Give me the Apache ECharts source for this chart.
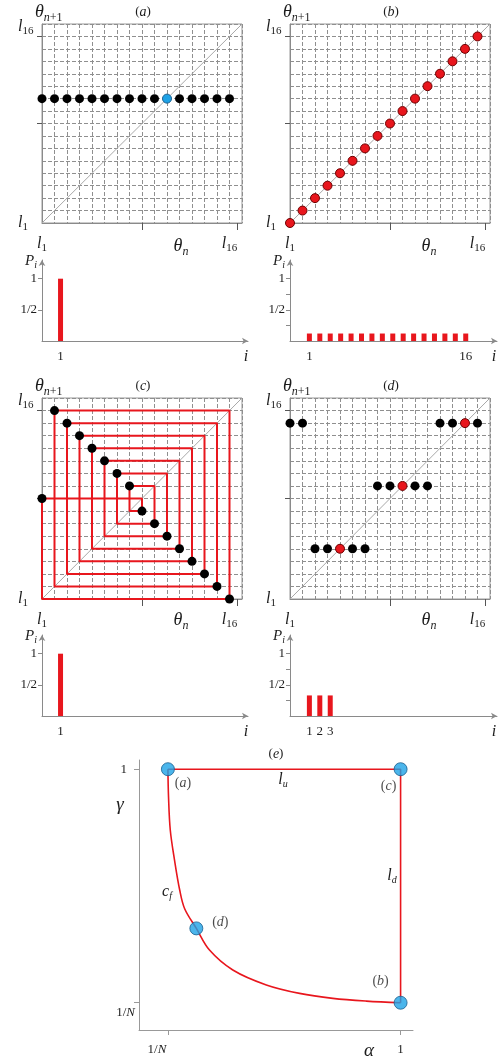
<!DOCTYPE html>
<html><head><meta charset="utf-8">
<script src="https://cdn.jsdelivr.net/npm/echarts@6/dist/echarts.min.js"></script>
<style>html,body{margin:0;padding:0;background:#fff}#c{width:500px;height:1063px}</style>
</head><body><div id="c"></div>
<script>
// ---------------- data ----------------
const levels = [1,2,3,4,5,6,7,8,9,10,11,12,13,14,15,16];
const nextA = [11,11,11,11,11,11,11,11,11,11,11,11,11,11,11,11];
const nextB = [1,2,3,4,5,6,7,8,9,10,11,12,13,14,15,16];
const cycleC = [1,9,8,10,7,11,6,12,5,13,4,14,3,15,2,16];
const nextD = [15,15,5,5,5,5,5,10,10,10,10,10,15,15,15,15];

const boxLabelValues = [1, 16];
const boxLabelSubs = ['1', '16'];
const boxXTickValues = [9, 16.6];
const boxYTickValues = [9, 16];

const barsA_i = [1];  const barsA_p = [1];
const barsB_i = [1,2,3,4,5,6,7,8,9,10,11,12,13,14,15,16];
const barsB_p = [0.12,0.12,0.12,0.12,0.12,0.12,0.12,0.12,0.12,0.12,0.12,0.12,0.12,0.12,0.12,0.12];
const barsC_i = [1];  const barsC_p = [1];
const barsD_i = [1,2,3]; const barsD_p = [0.33,0.33,0.33];
const barYLabelValues = [0.5, 1];
const barYLabelTexts = ['1/2', '1'];
const barYTicksShort = [0.5, 1];
const barYTicksFull = [0.25, 0.5, 0.75, 1];

const N = 16;
const curveAlpha = [0.0625,0.065,0.072,0.089,0.110,0.130,0.177,0.230,0.324,0.459,0.593,0.727,0.862,1.0];
const curveGamma = [1.0,0.888,0.756,0.636,0.515,0.44,0.361,0.274,0.194,0.134,0.100,0.080,0.069,0.0625];
const pointNames = ['(a)','(c)','(d)','(b)'];
const pointAlpha = [1/16, 1, 0.177, 1];
const pointGamma = [1, 1, 0.361, 1/16];
const eTickValues = [1/16, 1];
const eTickTexts = ['1/N', '1'];

// ---------------- styles ----------------
const F = "'Liberation Serif','DejaVu Serif',serif";
const INK = '#1c1c1c';
const RED = '#e8161d';
const GRIDC = '#8f8f8f';
const AXIS = '#8a8a8a';
const BLUE = '#1ea2e6';

function rs(size, italic, pad) {
  const o = {fontFamily:F, fontSize:size, fontStyle: italic ? 'italic' : 'normal', color:INK, fill:INK};
  if (pad) o.padding = pad;
  return o;
}
const RICH = {
  th: rs(18, true), ths: rs(12, true, [11,0,0,0]), thd: rs(12, false, [11,0,0,0]),
  l: rs(16, true), ls: rs(11, false, [9,0,0,0]),
  lu: rs(16, true, [0,0,20,0]), lsu: rs(11, false, [9,0,20,0]),
  P: rs(15, true), Ps: rs(10, true, [8,0,0,0]),
  it: rs(16, true),
  pl: rs(14, true),
  n: rs(13, false),
  g: rs(19, true),
  ys: rs(13,false,[20,0,0,0]), yi: rs(13,true,[20,0,0,0]),
  x1: rs(13,false), xN: rs(13,true,[0,22,0,0]),
  y1: rs(13,false,[0,8,0,0])
};

const grid = [], xAxis = [], yAxis = [], series = [], graphic = [];

function txt(x, y, text, align) {
  graphic.push({type:'text', x:x, y:y, silent:true, style:{text:text, rich:RICH, align:align||'center', textAlign:align||'center', verticalAlign:'middle', textVerticalAlign:'middle', fill:INK, font:"14px " + F}});
}
function addGrid(o) { o.containLabel = false; o.outerBoundsMode = 'none'; grid.push(o); return grid.length - 1; }

function boxPanel(left, top, h) {
  const gi = addGrid({left:left, top:top, width:200, height:h, show:true, borderColor:'#999', borderWidth:1});
  const xg = xAxis.length;
  xAxis.push({gridIndex:gi, type:'value', min:1, max:17, interval:1, position:'top',
    axisLine:{show:false, onZero:false}, axisTick:{show:false}, axisLabel:{show:false},
    splitLine:{show:true, lineStyle:{color:GRIDC, width:1, type:[4,2]}}});
  xAxis.push({gridIndex:gi, type:'value', min:1, max:17, interval:1, position:'bottom',
    axisLine:{show:true, onZero:false, lineStyle:{color:AXIS}},
    axisTick:{show:true, customValues:boxXTickValues, length:7, lineStyle:{color:'#555'}},
    axisLabel:{show:true, customValues:boxLabelValues, margin:11, rich:RICH,
      formatter:function(v){ const k = boxLabelValues.indexOf(Math.round(v)); return k<0 ? '' : '{l|l}{ls|' + boxLabelSubs[k] + '}'; }},
    splitLine:{show:false}});
  const yg = yAxis.length;
  yAxis.push({gridIndex:gi, type:'value', min:1, max:17, interval:1, position:'right',
    axisLine:{show:false, onZero:false}, axisTick:{show:false}, axisLabel:{show:false},
    splitLine:{show:true, lineStyle:{color:GRIDC, width:1, type:[4,2]}}});
  yAxis.push({gridIndex:gi, type:'value', min:1, max:17, interval:1, position:'left',
    axisLine:{show:true, onZero:false, lineStyle:{color:AXIS}},
    axisTick:{show:true, customValues:boxYTickValues, length:5, lineStyle:{color:'#555'}},
    axisLabel:{show:true, customValues:boxLabelValues, margin:24, align:'left', rich:RICH,
      formatter:function(v){ const k = boxLabelValues.indexOf(Math.round(v)); return k<0 ? '' : (k===1 ? '{lu|l}{lsu|' + boxLabelSubs[k] + '}' : '{l|l}{ls|' + boxLabelSubs[k] + '}'); }},
    splitLine:{show:false}});
  series.push({type:'line', xAxisIndex:xg, yAxisIndex:yg, data:[[1,1],[17,17]], symbol:'none', silent:true,
    lineStyle:{color:'#a8a8a8', width:1}, z:2});
  return {xi:xg, yi:yg};
}

function dots(ax, xs, ys, color, border, z) {
  const d = xs.map((x,k)=>[x, ys[k]]);
  series.push({type:'scatter', xAxisIndex:ax.xi, yAxisIndex:ax.yi, data:d, symbolSize:9, silent:true,
    itemStyle:{color:color, borderColor:border, borderWidth: border ? 1 : 0, opacity:1}, z:z||5});
}

function mapPanel(ax, next, fixColor, fixBorder) {
  const bx = [], by = [], fx = [], fy = [];
  levels.forEach((t,k)=>{ if (next[k] === t) { fx.push(t); fy.push(next[k]); } else { bx.push(t); by.push(next[k]); } });
  dots(ax, bx, by, '#000', null, 5);
  if (fx.length) dots(ax, fx, fy, fixColor, fixBorder, 6);
}

function barPanel(left, top, width, xmin, is, ps, yticks) {
  const gi = addGrid({left:left, top:top, width:width, height:81});
  const xi = xAxis.length, yi = yAxis.length;
  xAxis.push({gridIndex:gi, type:'value', min:xmin, max:19,
    axisLine:{show:true, onZero:false, symbol:['none','arrow'], symbolSize:[5,6], lineStyle:{color:AXIS}},
    axisTick:{show:false}, splitLine:{show:false},
    axisLabel:{show:true, customValues:is.slice(0,1).concat(is.length>3 ? [is[is.length-1]] : is.slice(1)), margin:9, rich:RICH,
      formatter:function(v){ return '{n|' + Math.round(v) + '}'; }}});
  yAxis.push({gridIndex:gi, type:'value', min:0, max:1.3,
    axisLine:{show:true, onZero:false, symbol:['none','arrow'], symbolSize:[5,6], lineStyle:{color:AXIS}},
    axisTick:{show:true, customValues:yticks, length:4, lineStyle:{color:AXIS}},
    splitLine:{show:false},
    axisLabel:{show:true, customValues:barYLabelValues, margin:5, rich:RICH,
      formatter:function(v){ const k = barYLabelValues.findIndex(u=>Math.abs(u-v)<1e-6); return k<0 ? '' : '{n|' + barYLabelTexts[k] + '}'; }}});
  series.push({type:'bar', xAxisIndex:xi, yAxisIndex:yi, data:is.map((x,k)=>[x, ps[k]]), barWidth:5, silent:true,
    itemStyle:{color:RED}});
}

// ---------- panel (a) ----------
const axA = boxPanel(42, 24, 199);
mapPanel(axA, nextA, BLUE, '#1a5f8f');
// ---------- panel (b) ----------
const axB = boxPanel(290, 24, 199);
mapPanel(axB, nextB, RED, '#6e0000');
// ---------- bars (a),(b) ----------
barPanel(42, 260, 206, -0.78, barsA_i, barsA_p, barYTicksShort);
barPanel(290, 260, 207, -0.86, barsB_i, barsB_p, barYTicksFull);
// ---------- panel (c) ----------
const axC = boxPanel(42, 398, 201);
(function(){
  const L = cycleC.length, path = [[cycleC[0], cycleC[1]]];
  for (let s = 1; s <= L; s++) { const v = cycleC[s % L]; path.push([v, v]); path.push([v, cycleC[(s+1) % L]]); }
  series.push({type:'line', xAxisIndex:axC.xi, yAxisIndex:axC.yi, data:path, symbol:'none', silent:true,
    lineStyle:{color:RED, width:2}, z:4});
  const nx = levels.map(t => cycleC[(cycleC.indexOf(t)+1) % L]);
  mapPanel(axC, nx, RED, '#6e0000');
})();
// ---------- panel (d) ----------
const axD = boxPanel(290, 398, 201);
mapPanel(axD, nextD, RED, '#6e0000');
// ---------- bars (c),(d) ----------
barPanel(42, 635, 206, -0.78, barsC_i, barsC_p, barYTicksShort);
barPanel(290, 635, 207, -0.86, barsD_i, barsD_p, barYTicksFull);

// ---------- panel (e) ----------
(function(){
  const gi = addGrid({left:139, top:760, width:274, height:270});
  const xi = xAxis.length, yi = yAxis.length;
  xAxis.push({gridIndex:gi, type:'value', min:-0.054, max:1.05,
    axisLine:{show:true, onZero:false, lineStyle:{color:'#999'}}, splitLine:{show:false},
    axisTick:{show:true, customValues:eTickValues, length:5, lineStyle:{color:'#999'}},
    axisLabel:{show:true, customValues:eTickValues, margin:13, rich:RICH,
      formatter:function(v){ return Math.abs(v-1)<1e-6 ? '{x1|1}' : '{x1|1/}{xN|N}'; }}});
  yAxis.push({gridIndex:gi, type:'value', min:-0.047, max:1.037,
    axisLine:{show:true, onZero:false, lineStyle:{color:'#999'}}, splitLine:{show:false},
    axisTick:{show:true, customValues:eTickValues, length:5, lineStyle:{color:'#999'}},
    axisLabel:{show:true, customValues:eTickValues, margin:4, rich:RICH,
      formatter:function(v){ return Math.abs(v-1)<1e-6 ? '{y1|1}' : '{ys|1/}{yi|N}'; }}});
  series.push({type:'line', xAxisIndex:xi, yAxisIndex:yi, smooth:0.35, symbol:'none', silent:true,
    data:curveAlpha.map((a,k)=>[a, curveGamma[k]]), lineStyle:{color:RED, width:1.6}, z:3});
  series.push({type:'line', xAxisIndex:xi, yAxisIndex:yi, symbol:'none', silent:true,
    data:[[pointAlpha[0], pointGamma[0]], [pointAlpha[1], pointGamma[1]], [pointAlpha[3], pointGamma[3]]],
    lineStyle:{color:RED, width:1.6}, z:3});
  const offs = [[15,14],[-12,17],[24,-6],[-20,-21]];
  const prich = {pl:{fontFamily:F, fontStyle:'italic', fontSize:14, color:INK}, pp:{fontFamily:F, fontSize:14, color:INK}};
  series.push({type:'scatter', xAxisIndex:xi, yAxisIndex:yi, symbolSize:13, silent:true, z:6,
    itemStyle:{color:BLUE, borderColor:'#1a5f8f', borderWidth:1},
    data:pointAlpha.map((a,k)=>({value:[a, pointGamma[k]], name:pointNames[k],
      label:{show:true, position:'inside', offset:offs[k], rich:prich,
        formatter:'{pp|(}{pl|' + pointNames[k].replace(/[()]/g,'') + '}{pp|)}'}})),
    label:{show:true}});
})();

// ---------- free text ----------
const TH1 = '{th|θ}{ths|n}{thd|+1}';
const THN = '{th|θ}{ths|n}';
const PL = function(c){ return '{n|(}{pl|' + c + '}{n|)}'; };
[[0,0,'a'],[248,0,'b'],[0,374,'c'],[248,374,'d']].forEach(function(p){
  const ox = p[0], oy = p[1];
  txt(35+ox, 12+oy, TH1, 'left');
  txt(143+ox, 12+oy, PL(p[2]));
  txt(181+ox, 246+oy, THN);
});
[[0,0],[248,0],[0,375],[248,375]].forEach(function(p){
  txt(31+p[0], 261+p[1], '{P|P}{Ps|i}');
  txt(246+p[0], 357+p[1], '{it|i}');
});
txt(276, 754, PL('e'));
txt(120, 805, '{g|γ}');
txt(369, 1051, '{g|α}');
txt(283, 780, '{l|l}{Ps|u}');
txt(392, 876, '{l|l}{Ps|d}');
txt(167, 892, '{l|c}{Ps|f}');

const chart = echarts.init(document.getElementById('c'), null, {renderer:'canvas'});
chart.setOption({animation:false, backgroundColor:'#fff', grid:grid, xAxis:xAxis, yAxis:yAxis, series:series, graphic:graphic});
</script></body></html>
